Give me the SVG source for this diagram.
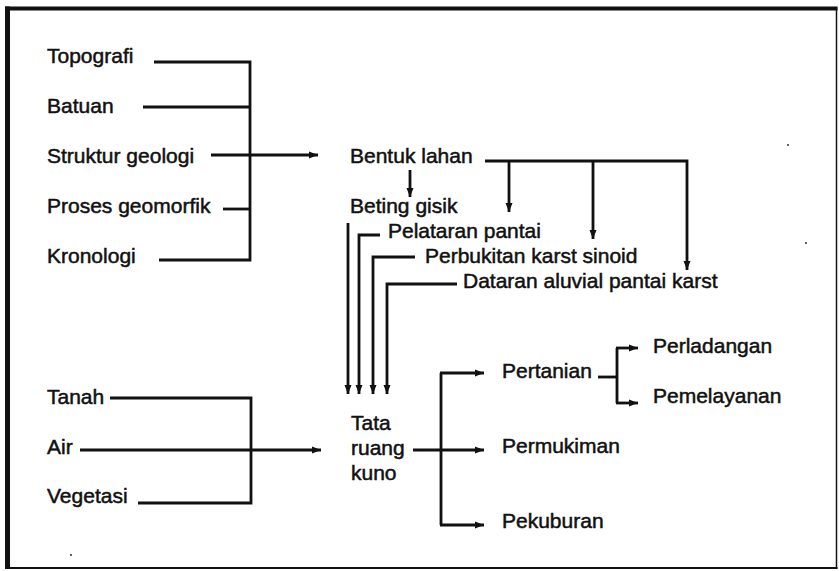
<svg xmlns="http://www.w3.org/2000/svg" width="839" height="571" viewBox="0 0 839 571">
  <defs>
    <marker id="arrow" markerUnits="userSpaceOnUse" markerWidth="10" markerHeight="8" refX="9" refY="4" orient="auto">
      <path d="M0,0.5 L9,4 L0,7.5 z" fill="#111"/>
    </marker>
    <style>
      text { font-family: "Liberation Sans", Arial, sans-serif; font-size: 21px; fill: #111; stroke: #111; stroke-width: 0.5; }
      .ln { fill: none; stroke: #111; stroke-width: 2.8; stroke-linejoin: miter; }
      .ar { marker-end: url(#arrow); }
      .frame { stroke: #111; fill: none; }
    </style>
  </defs>
  <rect width="839" height="571" fill="#fff"/>

  <!-- outer frame -->
  <g id="frame">
    <line class="frame" x1="5" y1="8.5" x2="837.5" y2="8.5" stroke-width="4"/>
    <line class="frame" x1="7.5" y1="6.5" x2="7.5" y2="569" stroke-width="5"/>
    <line class="frame" x1="836.5" y1="7" x2="836.5" y2="569" stroke-width="1.5"/>
    <line class="frame" x1="5" y1="568" x2="837.5" y2="568" stroke-width="2"/>
  </g>

  <!-- connectors -->
  <g id="connectors">
    <!-- physical factors into landform -->
    <path class="ln" d="M154,62 H250 V260 H159"/>
    <path class="ln" d="M143,107 H250"/>
    <path class="ln" d="M223,209 H250"/>
    <path class="ln ar" d="M211,155 H318"/>

    <!-- landform into its units -->
    <path class="ln ar" d="M410,170 V197"/>
    <path class="ln ar" d="M485,161 H687 V270"/>
    <path class="ln ar" d="M509,161 V212"/>
    <path class="ln ar" d="M593,161 V239"/>

    <!-- landform units into spatial layout -->
    <path class="ln ar" d="M348,223 V394"/>
    <path class="ln ar" d="M380,235 H359 V394"/>
    <path class="ln ar" d="M415,257 H373 V394"/>
    <path class="ln ar" d="M457,284 H387 V394"/>

    <!-- environmental factors -->
    <path class="ln" d="M110,398 H251 V503 H138"/>
    <path class="ln ar" d="M80,450 H321"/>

    <!-- spatial layout into land uses -->
    <path class="ln ar" d="M413,450 H484"/>
    <path class="ln" d="M441,373 V525"/>
    <path class="ln ar" d="M440,373 H484"/>
    <path class="ln ar" d="M440,525 H484"/>

    <!-- agriculture split -->
    <path class="ln" d="M598,377 H617"/>
    <path class="ln" d="M617,348 V403"/>
    <path class="ln ar" d="M616,348 H638"/>
    <path class="ln ar" d="M616,403 H638"/>
  </g>

  <!-- nodes -->
  <g id="topografi"><text x="47" y="62.5">Topografi</text></g>
  <g id="batuan"><text x="47" y="113">Batuan</text></g>
  <g id="struktur-geologi"><text x="47" y="163">Struktur geologi</text></g>
  <g id="proses-geomorfik"><text x="47" y="213">Proses geomorfik</text></g>
  <g id="kronologi"><text x="47" y="263">Kronologi</text></g>

  <g id="bentuk-lahan"><text x="350" y="163">Bentuk lahan</text></g>
  <g id="beting-gisik"><text x="350" y="213">Beting gisik</text></g>
  <g id="pelataran-pantai"><text x="388" y="238">Pelataran pantai</text></g>
  <g id="perbukitan-karst"><text x="425" y="263">Perbukitan karst sinoid</text></g>
  <g id="dataran-aluvial"><text x="463" y="288">Dataran aluvial pantai karst</text></g>

  <g id="tanah"><text x="47" y="404">Tanah</text></g>
  <g id="air"><text x="47" y="454">Air</text></g>
  <g id="vegetasi"><text x="47" y="503">Vegetasi</text></g>

  <g id="tata-ruang-kuno">
    <text x="351" y="430">Tata</text>
    <text x="351" y="455">ruang</text>
    <text x="351" y="480">kuno</text>
  </g>

  <g id="pertanian"><text x="502" y="378">Pertanian</text></g>
  <g id="permukiman"><text x="502" y="453">Permukiman</text></g>
  <g id="pekuburan"><text x="502" y="528">Pekuburan</text></g>
  <g id="perladangan"><text x="653" y="353">Perladangan</text></g>
  <g id="pemelayanan"><text x="653" y="403">Pemelayanan</text></g>

  <!-- stray specks -->
  <g id="specks" fill="#333">
    <circle cx="788" cy="145" r="1"/>
    <circle cx="806" cy="243" r="1"/>
    <circle cx="71" cy="555" r="1"/>
  </g>
</svg>
